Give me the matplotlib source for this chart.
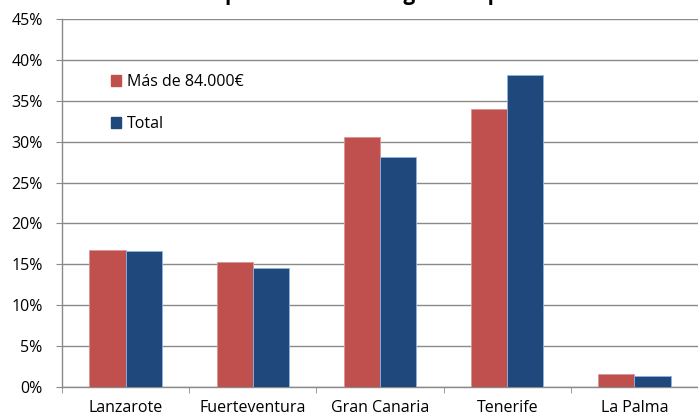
import numpy as np
import matplotlib.pyplot as plt
from matplotlib.patches import Patch
from matplotlib.ticker import FuncFormatter, MultipleLocator

islands = ['Lanzarote', 'Fuerteventura', 'Gran Canaria', 'Tenerife', 'La Palma']
mas_84000 = [16.8, 15.25, 30.55, 34.05, 1.55]
total = [16.6, 14.5, 28.15, 38.1, 1.35]
series_names = ['Más de 84.000€', 'Total']
colors = ['#C0504D', '#1F497D']

plt.rcParams['font.family'] = ['Open Sans', 'DejaVu Sans']
plt.rcParams['font.size'] = 11.5

fig = plt.figure(figsize=(6.98, 4.18), dpi=100)
ax = fig.add_axes([0.0888, 0.0742, 0.9112, 0.8803])

x = np.arange(len(islands))
w = 0.285
ax.bar(x - w / 2, mas_84000, w, color=colors[0], edgecolor='#D99694', linewidth=0.6, zorder=3)
ax.bar(x + w / 2, total, w, color=colors[1], edgecolor='#8EB4E3', linewidth=0.6, zorder=3)

ax.set_xlim(-0.5, len(islands) - 0.5)
ax.set_ylim(0, 45)
ax.yaxis.set_major_locator(MultipleLocator(5))
ax.yaxis.set_major_formatter(FuncFormatter(lambda v, p: '%d%%' % v))
ax.grid(axis='y', color='#8A8A8A', linewidth=1.0, zorder=0)

# category labels centred, ticks on the boundaries
ax.set_xticks(x)
ax.set_xticklabels(islands)
ax.set_xticks(np.arange(len(islands)) - 0.5, minor=True)
ax.tick_params(axis='x', which='major', length=0, pad=9.5)
ax.tick_params(axis='x', which='minor', length=4, color='#8A8A8A')
ax.tick_params(axis='y', length=4, color='#8A8A8A', pad=10)

for s in ['top', 'right']:
    ax.spines[s].set_visible(False)
for s in ['left', 'bottom']:
    ax.spines[s].set_color('#8A8A8A')
    ax.spines[s].set_linewidth(1.0)

handles = [Patch(color=c, label=n) for c, n in zip(colors, series_names)]
leg = ax.legend(handles=handles, loc='upper left', bbox_to_anchor=(0.055, 0.89),
                frameon=False, handlelength=0.6, handleheight=0.7,
                handletextpad=0.4, labelspacing=1.65)

# title sits mostly above the visible area, as in the original
fig.text(0.51, 1.0, 'Reparto de renta según el tipo', ha='center', va='baseline',
         fontsize=15, fontweight='bold')

fig.savefig('out.png', dpi=100)
